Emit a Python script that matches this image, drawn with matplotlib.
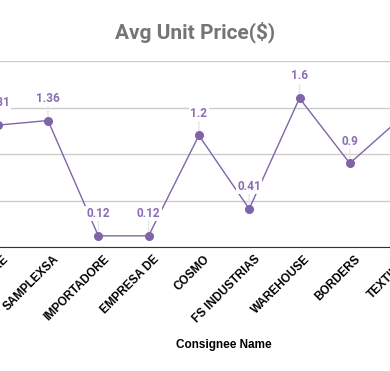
import matplotlib
matplotlib.use("Agg")
import matplotlib.pyplot as plt
import matplotlib.transforms as mtransforms

# chart data (cropped view of a wider chart)
consignees = ["DISTRIBUIDORE", "SAMPLEXSA", "IMPORTADORE", "EMPRESA DE", "COSMO",
              "FS INDUSTRIAS", "WAREHOUSE", "BORDERS", "TEXTILES"]
avg_price = [1.31, 1.36, 0.12, 0.12, 1.2, 0.41, 1.6, 0.9, 1.38]
y_ticks = [0, 0.5, 1.0, 1.5, 2.0]

LINE_COLOR = "#8064a8"
LABEL_COLOR = "#8a6db5"

W, H = 390, 371
fig = plt.figure(figsize=(W / 100, H / 100), dpi=100)

# axes wider than the figure, so the first and last points fall off the edges
step = 50.3
left_px = -2.3 - 0.5 * step
ax = fig.add_axes([left_px / W, 1 - 247 / H, 9 * step / W, (247 - 61) / H])

x = list(range(len(consignees)))
ax.plot(x, avg_price, color=LINE_COLOR, lw=1, marker="o", ms=5.5, zorder=3)

# last point's label sits outside the visible crop, so skip it
for xi, v in zip(x[:-1], avg_price[:-1]):
    ax.annotate("", xy=(xi, v), xytext=(0, 12), textcoords="offset points",
                arrowprops=dict(arrowstyle="-", color="#e6e6e6", lw=1, shrinkA=0, shrinkB=3),
                zorder=2)
    ax.annotate(f"{v:g}", xy=(xi, v), xytext=(0, 16), textcoords="offset points",
                ha="center", va="center", fontsize=8.5, fontweight="bold",
                color=LABEL_COLOR, family="Roboto",
                bbox=dict(boxstyle="square,pad=0.1", fc="white", ec="none"),
                zorder=4)

ax.set_xlim(-0.5, len(consignees) - 0.5)
ax.set_ylim(0, 2.0)
ax.set_yticks(y_ticks)
ax.yaxis.grid(True, color="#cccccc", lw=1)
ax.set_axisbelow(True)
ax.tick_params(axis="y", left=False, labelleft=False)
ax.tick_params(axis="x", length=0, pad=7.5)
ax.set_xticks(x)
ax.set_xticklabels(consignees, rotation=45, ha="right", va="center", rotation_mode="anchor",
                   fontsize=8.5, fontweight="bold", family="Liberation Sans")
shift = mtransforms.ScaledTranslation(6.5 / 72, 0, fig.dpi_scale_trans)
for lbl in ax.get_xticklabels():
    lbl.set_transform(lbl.get_transform() + shift)
for s in ["top", "left", "right"]:
    ax.spines[s].set_visible(False)
ax.spines["bottom"].set_color("#333333")

fig.text(195 / W, 1 - 32 / H, "Avg Unit Price($)", ha="center", va="center",
         fontsize=15, fontweight="bold", color="#757575", family="Roboto")
fig.text(224 / W, 1 - 345 / H, "Consignee Name", ha="center", va="center",
         fontsize=8.5, fontweight="bold", color="black", family="Liberation Sans")

fig.savefig("out.png", dpi=100)
